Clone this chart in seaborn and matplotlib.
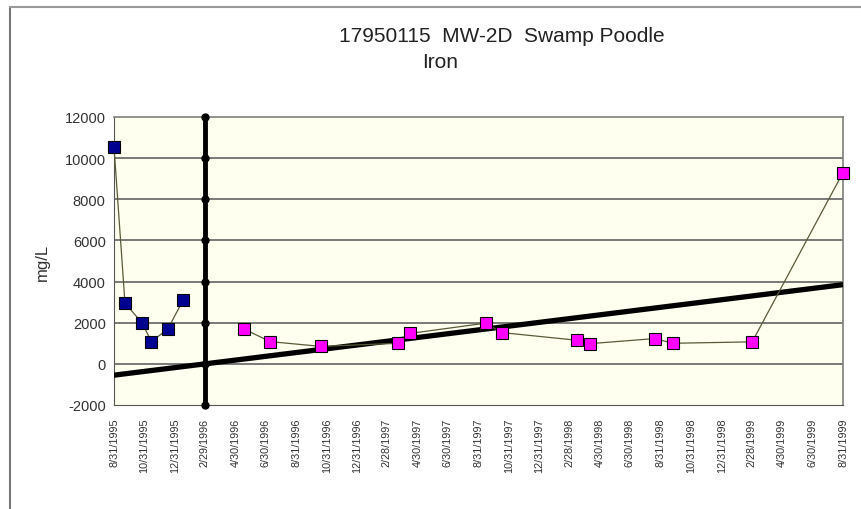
import pandas as pd
import numpy as np
import seaborn as sns
import matplotlib.pyplot as plt
from matplotlib.lines import Line2D

# --- data ---
blue_dates = ['8/31/1995', '9/22/1995', '10/26/1995', '11/14/1995', '12/17/1995', '1/17/1996']
blue_values = [10550, 2950, 2000, 1080, 1700, 3120]

pink_dates = ['5/17/1996', '7/9/1996', '10/18/1996', '3/23/1997', '4/16/1997', '9/14/1997',
              '10/16/1997', '3/15/1998', '4/10/1998', '8/19/1998', '9/24/1998', '3/2/1999', '8/31/1999']
pink_values = [1700, 1080, 850, 1000, 1480, 1980, 1520, 1150, 980, 1230, 1000, 1070, 9300]

trend_dates = ['8/31/1995', '8/31/1999']
trend_values = [-550, 3850]

event_date = '2/29/1996'

tick_labels = ['8/31/1995', '10/31/1995', '12/31/1995', '2/29/1996', '4/30/1996', '6/30/1996',
               '8/31/1996', '10/31/1996', '12/31/1996', '2/28/1997', '4/30/1997', '6/30/1997',
               '8/31/1997', '10/31/1997', '12/31/1997', '2/28/1998', '4/30/1998', '6/30/1998',
               '8/31/1998', '10/31/1998', '12/31/1998', '2/28/1999', '4/30/1999', '6/30/1999',
               '8/31/1999']
y_ticks = [-2000, 0, 2000, 4000, 6000, 8000, 10000, 12000]

TITLE = '17950115  MW-2D  Swamp Poodle'
SUBTITLE = 'Iron'

sns.set_style('white')
plt.rcParams['font.family'] = ['Liberation Sans', 'DejaVu Sans']

fig = plt.figure(figsize=(8.62, 5.10), dpi=100)
ax = fig.add_axes([114 / 862, 1 - 406 / 510, (843 - 114) / 862, (406 - 118) / 510])
ax.set_facecolor('#FFFFEF')

df_blue = pd.DataFrame({'date': pd.to_datetime(blue_dates, format='%m/%d/%Y'), 'value': blue_values})
df_pink = pd.DataFrame({'date': pd.to_datetime(pink_dates, format='%m/%d/%Y'), 'value': pink_values})
df_trend = pd.DataFrame({'date': pd.to_datetime(trend_dates, format='%m/%d/%Y'), 'value': trend_values})
ticks = pd.to_datetime(tick_labels, format='%m/%d/%Y')
event = pd.to_datetime(event_date, format='%m/%d/%Y')

# gridlines
for yv in y_ticks[1:-1]:
    ax.axhline(yv, color='#6e6e6e', lw=1.3, zorder=1)

# trend line
sns.lineplot(data=df_trend, x='date', y='value', color='black', lw=3.8, ax=ax, zorder=3)

# event line with dots at each gridline
ax.plot([event] * len(y_ticks), y_ticks, color='black', lw=3.5, marker='o', ms=5,
        zorder=4, clip_on=False)

sns.lineplot(data=df_blue, x='date', y='value', color='#5a5a38', lw=0.9, marker='s', ms=9,
             markerfacecolor='#000090', markeredgecolor='black', markeredgewidth=0.8,
             ax=ax, zorder=5, clip_on=False)
sns.lineplot(data=df_pink, x='date', y='value', color='#5a5a38', lw=0.9, marker='s', ms=9,
             markerfacecolor='#FF00FF', markeredgecolor='black', markeredgewidth=0.8,
             ax=ax, zorder=5, clip_on=False)

ax.set_xlim(ticks[0], ticks[-1])
ax.set_ylim(-2000, 12000)
ax.set_xticks(ticks)
ax.set_xticklabels(tick_labels, rotation=90, fontsize=7.8, color='#333333')
ax.set_yticks(y_ticks)
ax.set_yticklabels([str(v) for v in y_ticks], fontsize=10.5, color='#333333')
ax.tick_params(axis='x', direction='out', length=4, width=1, color='#333333', pad=5)
ax.tick_params(axis='y', length=0, pad=6)
ax.set_xlabel('')
ax.set_ylabel('')
for side in ['top', 'right']:
    ax.spines[side].set_color('#808080')
    ax.spines[side].set_linewidth(1.2)
ax.spines['left'].set_color('#555555')
ax.spines['bottom'].set_color('#555555')

fig.text(42 / 862, 1 - 262 / 510, 'mg/L', rotation=90, ha='center', va='center',
         fontsize=12, color='#333333')
fig.text(502 / 862, 1 - 37 / 510, TITLE, ha='center', va='center', fontsize=15, color='#222222')
fig.text(440 / 862, 1 - 62 / 510, SUBTITLE, ha='center', va='center', fontsize=15, color='#222222')

# outer chart-area frame
fig.add_artist(Line2D([10 / 862, 10 / 862], [0, 1 - 8 / 510], color='#777777', lw=1.5))
fig.add_artist(Line2D([10 / 862, 1], [1 - 8 / 510, 1 - 8 / 510], color='#999999', lw=1.5))

fig.savefig('out.png', dpi=100)
